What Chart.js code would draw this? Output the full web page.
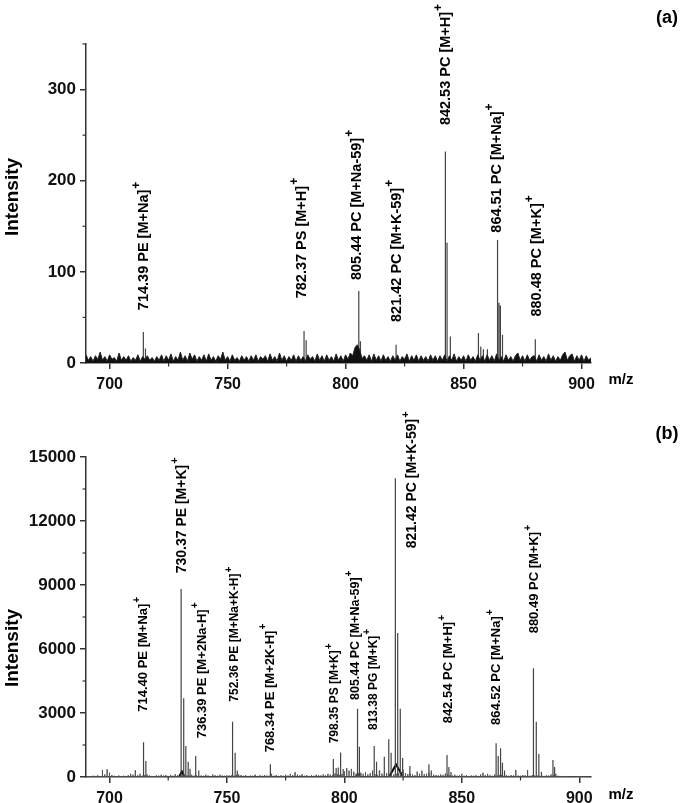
<!DOCTYPE html>
<html>
<head>
<meta charset="utf-8">
<script src="https://cdn.jsdelivr.net/npm/chart.js@4.4.1/dist/chart.umd.min.js"></script>
<style>
  html,body{margin:0;padding:0;background:#fff;}
  #wrap{position:relative;width:685px;height:803px;overflow:hidden;}
  canvas{position:absolute;left:0;}
  #cA{top:0;} #cB{top:400px;}
</style>
</head>
<body>
<div id="wrap">
  <canvas id="cA" width="685" height="400"></canvas>
  <canvas id="cB" width="685" height="403"></canvas>
</div>
<script>
// ---- datos panel (a) ----
const xTicks = [700, 750, 800, 850, 900];
const yTicksA = [0, 100, 200, 300];
const yTicksB = [0, 3000, 6000, 9000, 12000, 15000];

const peakMzA  = [714.3, 715.2, 782.4, 783.3, 805.6, 806.3, 821.4, 842.3, 843.0, 844.4, 856.3, 857.3, 858.4, 860.1, 864.4, 865.0, 865.6, 866.5, 880.4];
const peakIntA = [34,    16,    35,    25,    79,    24,    20,    232,   132,   29,    33,    18,    15,    15,    135,   66,    63,    31,    26];

// ruido de fondo (a), un valor por unidad m/z desde 690
const noiseStartA = 690;
const noiseA = [
  9,3,7,2,8,4,12,3,7,2,
  9,4,6,2,11,3,7,3,8,2,
  6,3,9,2,7,4,8,3,6,2,
  7,3,9,2,8,3,10,2,7,3,
  12,3,8,2,11,4,9,2,7,3,
  9,2,10,3,7,2,8,4,12,3,
  7,2,9,3,6,2,8,3,7,2,
  8,3,9,2,7,4,8,2,10,3,
  7,2,11,3,8,2,7,3,9,2,
  8,3,7,2,9,4,7,2,10,3,
  8,2,9,3,7,2,10,3,8,2,
  9,4,11,8,17,20,14,5,8,3,
  9,2,10,3,8,2,9,3,7,2,
  8,3,9,2,7,4,10,2,8,3,
  9,2,8,3,7,2,9,3,8,2,
  8,3,9,2,8,3,10,2,7,3,
  8,2,9,3,7,2,9,3,8,2,
  9,3,8,2,10,3,7,2,9,3,
  7,2,8,11,3,8,2,9,3,7,
  8,2,9,3,7,2,10,3,8,2,
  7,3,9,12,3,8,10,2,8,3,
  9,2,8,3,6
];

const labelTextA = ['714.39 PE [M+Na]', '782.37 PS [M+H]', '805.44 PC [M+Na-59]', '821.42 PC [M+K-59]', '842.53 PC [M+H]', '864.51 PC [M+Na]', '880.48 PC [M+K]'];
const labelMzA   = [714.6, 781.4, 805.0, 821.8, 842.4, 864.2, 881.0];
const labelBaseA = [58, 71, 91, 45, 261, 143, 51];

// ---- datos panel (b) ----
const peakMzB  = [714.5, 715.5, 730.5, 731.6, 732.5, 733.5, 734.3, 736.7, 738.0, 752.4, 753.5, 754.4, 768.5,
                  795.3, 796.5, 797.4, 798.4, 799.5, 805.6, 806.4, 812.7, 813.7, 814.9, 817.0, 818.9, 819.9,
                  821.7, 822.7, 823.8, 824.8, 827.9, 836.0, 843.7, 844.5, 845.4,
                  864.6, 865.5, 866.5, 867.3, 868.2, 880.5, 881.7, 882.8, 883.9, 888.8, 889.5];
const peakIntB = [1625, 750, 8812, 3690, 1450, 720, 388, 984, 300, 2594, 1140, 300, 594,
                  844, 420, 450, 1150, 380, 3200, 1420, 1450, 720, 300, 950, 1765, 1140,
                  14000, 6750, 3200, 890, 515, 594, 1030, 470, 230,
                  1580, 985, 1345, 670, 300, 5100, 2594, 1080, 240, 800, 470];

const noiseStartB = 690;
const noiseB = [
  30,40,20,60,50,80,40,330,120,360,
  200,90,60,40,70,30,60,50,80,150,
  110,320,80,150,60,90,120,70,50,40,
  80,60,110,70,90,50,100,60,130,80,
  60,90,120,80,70,110,60,90,50,70,
  60,110,70,50,120,80,60,110,70,60,
  80,70,90,60,100,120,90,60,80,50,
  70,60,110,50,80,60,90,70,60,150,
  60,90,50,80,60,110,70,150,90,230,
  110,80,130,60,90,50,80,60,110,90,
  70,120,80,150,110,90,170,130,100,140,
  260,420,300,380,250,160,120,200,150,230,
  120,180,300,140,100,300,160,120,180,150,
  140,120,160,180,150,350,180,140,160,120,
  90,250,150,300,130,150,200,300,110,90,
  80,120,100,160,130,90,70,110,60,80,
  150,60,90,50,70,60,80,50,120,200,
  90,150,80,60,120,70,90,110,60,80,
  60,90,80,330,70,60,90,80,330,60,
  90,70,80,60,90,50,80,70,120,90,
  150,60,40,30,50,20,40,30,20,40,
  30,20,30,20,30
];

// envolvente negra en la base de los picos grandes
const envMzB  = [729.6, 730.8, 732.0, 804.8, 805.8, 806.8, 819.0, 822.0, 825.0];
const envIntB = [0,     260,   0,     0,     130,   0,     0,     580,   0];

const labelTextB = ['714.40 PE [M+Na]', '730.37 PE [M+K]', '736.39 PE [M+2Na-H]', '752.36 PE [M+Na+K-H]', '768.34 PE [M+2K-H]', '798.35 PS [M+K]', '805.44 PC [M+Na-59]', '813.38 PG [M+K]', '821.42 PC [M+K-59]', '842.54 PC [M+H]', '864.52 PC [M+Na]', '880.49 PC [M+K]'];
const labelMzB   = [714.6, 730.9, 739.4, 753.5, 768.4, 796.0, 804.6, 812.5, 829.0, 844.5, 864.7, 881.0];
const labelBaseB = [3062, 9547, 1813, 3531, 1156, 1578, 3609, 2203, 10719, 2515, 2437, 6734];

// ---- helpers ----
const FONT = '"Liberation Sans", Arial, Helvetica, sans-serif';

function sticks(mz, inten){
  const pts = mz.map((m,i)=>({m, h:inten[i]})).sort((a,b)=>a.m-b.m);
  const out = [];
  pts.forEach(p=>{ out.push({x:p.m,y:0}); out.push({x:p.m,y:p.h}); out.push({x:p.m,y:0}); });
  return out;
}
function series(start, vals){ return vals.map((v,i)=>({x:start+i, y:v})); }
function pairs(xs, ys){ return xs.map((x,i)=>({x, y:ys[i]})); }

// plugin: etiquetas rotadas, ticks menores, textos sueltos
const extrasPlugin = {
  id:'extras',
  afterDatasetsDraw(chart, args, o){
    const {ctx, chartArea:ca, scales:{x,y}} = chart;
    ctx.save();
    // ticks menores
    ctx.strokeStyle = '#333'; ctx.lineWidth = 1.2;
    [[x,'x'],[y,'y']].forEach(([s,axis])=>{
      const vals = s.ticks.map(t=>t.value);
      const step = vals[1]-vals[0];
      vals.forEach(v=>{
        const m = v + step/2;
        if(m > s.max + 1e-9) return;
        const p = s.getPixelForValue(m);
        ctx.beginPath();
        if(axis==='x'){ ctx.moveTo(p, ca.bottom); ctx.lineTo(p, ca.bottom+3.5); }
        else { ctx.moveTo(ca.left, p); ctx.lineTo(ca.left-3.5, p); }
        ctx.stroke();
      });
    });
    // etiquetas de picos
    ctx.fillStyle = '#000';
    o.text.forEach((t,i)=>{
      const px = x.getPixelForValue(o.mz[i]);
      const py = y.getPixelForValue(o.base[i]);
      const fs = o.size[i];
      ctx.save();
      ctx.translate(px, py);
      ctx.rotate(-Math.PI/2);
      ctx.font = `bold ${fs}px ${FONT}`;
      ctx.textAlign = 'left'; ctx.textBaseline = 'middle';
      ctx.fillText(t, 0, 0);
      const w = ctx.measureText(t).width;
      ctx.font = `bold ${Math.round(fs*0.8)}px ${FONT}`;
      ctx.fillText('+', w+1, -fs*0.5);
      ctx.restore();
    });
    // Intensity, m/z, (a)/(b)
    ctx.font = `bold 19px ${FONT}`;
    ctx.textAlign = 'center'; ctx.textBaseline = 'middle';
    ctx.save();
    ctx.translate(13, o.titleY);
    ctx.rotate(-Math.PI/2);
    ctx.fillText('Intensity', 0, 0);
    ctx.restore();
    ctx.font = `bold 15px ${FONT}`;
    ctx.fillText('m/z', ca.right + 30, o.mzY);
    ctx.font = `bold 18px ${FONT}`;
    ctx.fillText(o.panel, 667, o.panelY);
    ctx.restore();
  }
};

function axisCfg(min, max, tickVals, fontSize, pad, fitFn){
  return {
    type:'linear', min, max,
    border:{display:true, color:'#333', width:1.5},
    grid:{display:true, drawOnChartArea:false, drawTicks:true, tickLength:6, color:'#333', lineWidth:1.5},
    ticks:{color:'#111', font:{family:FONT, size:fontSize, weight:'bold'}, padding:pad, autoSkip:false, maxRotation:0,
           callback:v=>String(v)},
    afterBuildTicks: s => { s.ticks = tickVals.map(v=>({value:v})); },
    afterFit: fitFn
  };
}

function makeChart(id, cfg){
  return new Chart(document.getElementById(id), {
    type:'scatter',
    data:{ datasets: cfg.datasets },
    options:{
      responsive:false, animation:false,
      layout:{ padding:{ top:cfg.top, right:94, left:0, bottom:0 } },
      elements:{ point:{ radius:0, hoverRadius:0 } },
      plugins:{ legend:{display:false}, tooltip:{enabled:false}, extras:cfg.extras },
      scales:{
        x: axisCfg(cfg.xmin, cfg.xmax, xTicks, 16, 6, s=>{ s.height = cfg.xh; }),
        y: axisCfg(cfg.ymin, cfg.ymax, cfg.yTicks, 17, 4, s=>{ s.width = 86; })
      }
    },
    plugins:[extrasPlugin]
  });
}

// panel (a)
makeChart('cA', {
  top:44, xh:37, xmin:690, xmax:904, ymin:0, ymax:350, yTicks:yTicksA,
  datasets:[
    { data: series(noiseStartA, noiseA), showLine:true, borderColor:'#222', borderWidth:1,
      backgroundColor:'#111', fill:'origin', tension:0 },
    { data: sticks(peakMzA, peakIntA), showLine:true, borderColor:'#444', borderWidth:1.2, tension:0 }
  ],
  extras:{ text:labelTextA, mz:labelMzA, base:labelBaseA, size:labelTextA.map(()=>14.5),
           titleY:197, mzY:380, panel:'(a)', panelY:18 }
});

// panel (b)
makeChart('cB', {
  top:57, xh:26, xmin:690, xmax:905, ymin:0, ymax:15000, yTicks:yTicksB,
  datasets:[
    { data: sticks(noiseB.map((_,i)=>noiseStartB+i), noiseB), showLine:true, borderColor:'#555', borderWidth:1, tension:0 },
    { data: sticks(peakMzB, peakIntB), showLine:true, borderColor:'#444', borderWidth:1.2, tension:0 },
    { data: pairs(envMzB, envIntB), showLine:true, borderColor:'#000', borderWidth:2,
      backgroundColor:'#fff', fill:'origin', tension:0 }
  ],
  extras:{ text:labelTextB, mz:labelMzB, base:labelBaseB, size:[13,14,13,12,13,12,12.5,12,14,13,13,13],
           titleY:248, mzY:395, panel:'(b)', panelY:34 }
});
</script>
</body>
</html>
